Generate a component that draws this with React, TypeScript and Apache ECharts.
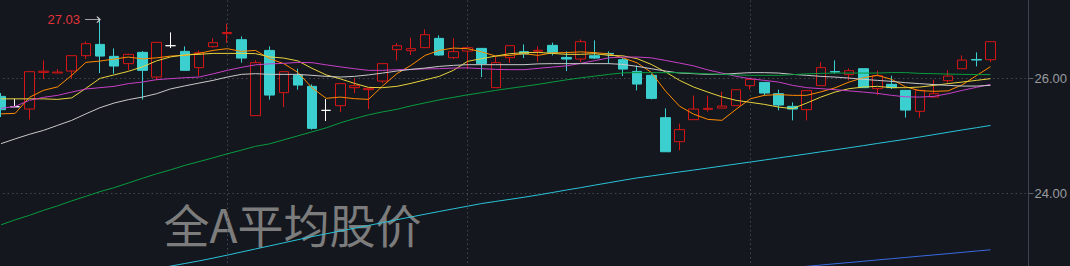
import React, { useEffect, useRef } from "react";
import * as echarts from "echarts";

// ---- data ----
const opens = [
  25.691, 25.51, 25.47, 26.11, 26.1, 26.133, 26.401, 26.598, 26.389, 26.262,
  26.459, 26.028, 26.575, 26.476, 26.192, 26.558, 26.785, 26.68, 25.355, 26.493,
  25.756, 26.058, 25.866, 25.447, 25.529, 25.843, 25.808, 25.958, 26.506, 26.488,
  26.541, 26.703, 26.366, 26.481, 26.528, 25.843, 26.366, 26.471, 26.48, 26.581,
  26.371, 26.342, 26.401, 26.44, 26.331, 26.127, 26.058, 25.32, 24.901, 25.285,
  25.465, 25.487, 25.529, 25.878, 25.935, 25.738, 25.517, 25.459, 25.878, 26.125,
  26.07, 26.174, 25.826, 25.901, 25.796, 25.43, 25.679, 25.965, 26.174, 26.335,
  26.331,
];
const closes = [
  25.459, 25.51, 26.122, 26.13, 26.115, 26.401, 26.61, 26.394, 26.22, 26.424,
  26.145, 26.633, 26.575, 26.145, 26.453, 26.628, 26.805, 26.359, 26.279, 25.714,
  26.122, 25.888, 25.133, 25.447, 25.913, 25.878, 25.831, 26.262, 26.575, 26.523,
  26.767, 26.412, 26.471, 26.541, 26.262, 26.279, 26.575, 26.429, 26.495, 26.459,
  26.342, 26.645, 26.359, 26.43, 26.167, 25.906, 25.656, 24.725, 25.111, 25.47,
  25.482, 25.522, 25.808, 25.988, 25.749, 25.54, 25.47, 25.791, 26.192, 26.115,
  26.139, 25.843, 26.052, 25.843, 25.452, 25.796, 25.738, 26.045, 26.324, 26.325,
  26.645,
];
const lows = [
  25.33, 25.51, 25.285, 25.993, 26.098, 26.0, 26.342, 26.098, 26.087, 26.145,
  25.634, 25.97, 26.534, 26.145, 26.045, 26.541, 26.621, 26.279, 25.355, 25.634,
  25.505, 25.808, 25.111, 25.261, 25.418, 25.749, 25.47, 25.923, 26.319, 26.412,
  26.541, 26.394, 26.342, 26.174, 26.028, 25.843, 26.272, 26.359, 26.296, 26.406,
  26.133, 26.289, 26.342, 26.262, 26.045, 25.796, 25.639, 24.725, 24.75, 25.285,
  25.425, 25.487, 25.529, 25.808, 25.704, 25.447, 25.273, 25.273, 25.878, 26.087,
  25.97, 25.843, 25.714, 25.819, 25.32, 25.32, 25.679, 25.93, 26.174, 26.214,
  26.289,
];
const highs = [
  25.749, 25.651, 26.122, 26.319, 26.167, 26.401, 26.65, 27.03, 26.528, 26.436,
  26.481, 26.64, 26.807, 26.563, 26.493, 26.703, 26.959, 26.738, 26.319, 26.563,
  26.122, 26.174, 25.901, 25.644, 25.913, 26.005, 25.831, 26.262, 26.621, 26.715,
  26.86, 26.755, 26.703, 26.541, 26.528, 26.377, 26.575, 26.598, 26.563, 26.628,
  26.476, 26.685, 26.668, 26.476, 26.377, 26.227, 26.087, 25.482, 25.215, 25.704,
  25.704, 25.773, 25.808, 25.988, 25.935, 25.808, 25.587, 25.791, 26.289, 26.319,
  26.18, 26.174, 26.139, 26.052, 25.796, 25.796, 25.983, 26.145, 26.406, 26.459,
  26.645,
];

const ma5 = [
  25.386, 25.395, 25.674, 25.796, 25.857, 26.058, 26.284, 26.307, 26.342, 26.377,
  26.345, 26.363, 26.394, 26.406, 26.441, 26.493, 26.523, 26.476, 26.493, 26.349,
  26.262, 26.11, 25.84, 25.657, 25.679, 25.651, 25.639, 25.874, 26.087, 26.232,
  26.406, 26.493, 26.534, 26.523, 26.467, 26.394, 26.406, 26.436, 26.406, 26.45,
  26.455, 26.467, 26.455, 26.432, 26.363, 26.276, 26.11, 25.787, 25.52, 25.381,
  25.29, 25.273, 25.465, 25.648, 25.709, 25.723, 25.709, 25.709, 25.77, 25.84,
  25.941, 26.017, 26.058, 25.988, 25.857, 25.791, 25.779, 25.787, 25.892, 26.052,
  26.209,
];
const ma10 = [
  25.648, 25.648, 25.648, 25.648, 25.639, 25.665, 25.831, 26.005, 26.066, 26.127,
  26.206, 26.31, 26.38, 26.415, 26.424, 26.441, 26.441, 26.441, 26.436, 26.38,
  26.359, 26.31, 26.18, 26.066, 25.997, 25.918, 25.848, 25.843, 25.866, 25.918,
  25.979, 26.04, 26.145, 26.302, 26.349, 26.394, 26.436, 26.453, 26.459, 26.441,
  26.424, 26.424, 26.436, 26.406, 26.398, 26.349, 26.249, 26.119, 25.97, 25.854,
  25.766, 25.683, 25.622, 25.587, 25.552, 25.505, 25.477, 25.575, 25.679, 25.766,
  25.826, 25.854, 25.866, 25.843, 25.843, 25.854, 25.883, 25.913, 25.941, 25.97,
  26.0,
];
const ma20 = [
  25.482, 25.517, 25.622, 25.674, 25.709, 25.766, 25.819, 25.843, 25.866, 25.913,
  25.941, 25.983, 26.0, 26.017, 26.028, 26.084, 26.145, 26.197, 26.241, 26.258,
  26.267, 26.284, 26.279, 26.241, 26.206, 26.174, 26.145, 26.145, 26.157, 26.162,
  26.171, 26.174, 26.185, 26.188, 26.174, 26.162, 26.157, 26.157, 26.18, 26.202,
  26.223, 26.267, 26.314, 26.363, 26.377, 26.377, 26.363, 26.319, 26.272, 26.223,
  26.153, 26.098, 26.04, 26.0, 25.97, 25.941, 25.883, 25.843, 25.826, 25.808,
  25.787, 25.766, 25.744, 25.709, 25.683, 25.679, 25.691, 25.738, 25.796, 25.848,
  25.901,
];
const ma30 = [
  24.867, 24.95, 25.029, 25.098, 25.186, 25.273, 25.386, 25.494, 25.575, 25.634,
  25.679, 25.738, 25.822, 25.874, 25.923, 25.97, 26.028, 26.075, 26.087, 26.075,
  26.075, 26.075, 26.058, 26.04, 26.028, 26.04, 26.066, 26.098, 26.133, 26.162,
  26.185, 26.214, 26.232, 26.244, 26.244, 26.244, 26.244, 26.244, 26.258, 26.262,
  26.262, 26.262, 26.262, 26.262, 26.249, 26.214, 26.174, 26.133, 26.098, 26.087,
  26.075, 26.075, 26.092, 26.105, 26.105, 26.098, 26.075, 26.058, 26.04, 26.028,
  26.01, 25.988, 25.97, 25.953, 25.93, 25.913, 25.897, 25.883, 25.871, 25.871,
  25.883,
];
const ma60 = [
  23.451, 23.538, 23.616, 23.704, 23.782, 23.869, 23.948, 24.03, 24.099, 24.18,
  24.262, 24.34, 24.41, 24.488, 24.553, 24.619, 24.689, 24.753, 24.82, 24.863,
  24.933, 25.003, 25.072, 25.142, 25.229, 25.303, 25.369, 25.421, 25.465, 25.526,
  25.578, 25.63, 25.674, 25.718, 25.756, 25.796, 25.831, 25.866, 25.901, 25.941,
  25.979, 26.014, 26.044, 26.075, 26.101, 26.105, 26.105, 26.105, 26.105, 26.096,
  26.084, 26.075, 26.066, 26.058, 26.058, 26.058, 26.07, 26.084, 26.092, 26.098,
  26.098, 26.098, 26.098, 26.106, 26.106, 26.092, 26.087, 26.08, 26.075, 26.072,
  26.07,
];
const ma120 = [
  null, null, null, null, null, null, null, null, null, 22.593,
  22.64, 22.685, 22.731, 22.776, 22.821, 22.87, 22.922, 22.976, 23.03, 23.083,
  23.137, 23.191, 23.245, 23.294, 23.343, 23.391, 23.44, 23.489, 23.54, 23.588,
  23.636, 23.683, 23.73, 23.775, 23.822, 23.859, 23.895, 23.932, 23.972, 24.014,
  24.058, 24.099, 24.143, 24.185, 24.228, 24.269, 24.303, 24.338, 24.373, 24.406,
  24.441, 24.476, 24.511, 24.546, 24.581, 24.617, 24.652, 24.687, 24.724, 24.759,
  24.795, 24.832, 24.87, 24.907, 24.943, 24.983, 25.024, 25.065, 25.106, 25.144,
  25.184,
];
const ma250 = [
  null, null, null, null, null, null, null, null, null, null,
  null, null, null, null, null, null, null, null, null, null,
  null, null, null, null, null, null, null, null, null, null,
  null, null, null, null, null, null, null, null, null, null,
  null, null, null, null, null, null, null, null, null, null,
  null, null, null, null, 22.66, 22.683, 22.705, 22.727, 22.749, 22.771,
  22.793, 22.815, 22.838, 22.86, 22.882, 22.904, 22.926, 22.948, 22.971, 22.993,
  23.015,
];

const monthStartIdx = [16, 33, 53];
const emptySlotsRight = 2;
const yMin = 22;
const yMax = 28;
const yStep = 2;
const watermark = "全A平均股价";

const maLines = [
  { name: "MA5", data: ma5, color: "#ff8a00" },
  { name: "MA10", data: ma10, color: "#e8d33c" },
  { name: "MA20", data: ma20, color: "#c63fc6" },
  { name: "MA30", data: ma30, color: "#c8c8c8" },
  { name: "MA60", data: ma60, color: "#089b3f" },
  { name: "MA120", data: ma120, color: "#29c3d8" },
  { name: "MA250", data: ma250, color: "#3a6be0" },
];

const BG = "#14171d";
const UP = "#d41616";
const DOWN = "#3ccfcf";
const GRID = "#454951";

// The chart canvas is larger than the window: the 22 and 28 ticks fall outside the view.
const PAD_LEFT = 5.6;
const PAD_TOP = 36.4;
const PAD_BOTTOM = 41.7;
const VIEW_W = 1070;
const VIEW_H = 266;

export default function App() {
  const ref = useRef<HTMLDivElement>(null);

  useEffect(() => {
    const chart = echarts.init(ref.current!, null, { renderer: "svg" });
    const slots = opens.length + emptySlotsRight;
    const cats = Array.from({ length: slots }, (_, i) => "d" + (i + 1));
    const kData = opens.map((o, i) => [o, closes[i], lows[i], highs[i]]);

    const option: any = {
      animation: false,
      backgroundColor: BG,
      grid: { left: 0, right: 42.65, top: 0, bottom: 0, containLabel: false },
      xAxis: {
        type: "category",
        data: cats,
        boundaryGap: true,
        show: false,
      },
      yAxis: {
        type: "value",
        position: "right",
        offset: 2.65,
        min: yMin,
        max: yMax,
        interval: yStep,
        axisLine: { show: true, lineStyle: { color: "#3e424a", width: 1 } },
        axisTick: { show: true, length: 5, lineStyle: { color: "#5a5e66" } },
        axisLabel: {
          color: "#9a9ca0",
          fontSize: 13,
          fontFamily: "Liberation Sans, Arial, sans-serif",
          margin: 6,
          showMinLabel: false,
          showMaxLabel: false,
          formatter: (v: number) => v.toFixed(2),
        },
        splitLine: { show: true, lineStyle: { color: GRID, type: [1.5, 3], width: 1 } },
      },
      graphic: [
        {
          type: "text",
          left: 164 + PAD_LEFT,
          top: 200 + PAD_TOP,
          z: 0,
          silent: true,
          style: {
            text: watermark,
            fontSize: 46,
            fontFamily: "Noto Sans CJK SC",
            fill: "#7c7c7c",
          },
        },
      ],
      series: [
        {
          type: "candlestick",
          data: kData,
          barWidth: 10,
          itemStyle: {
            color: BG,
            color0: DOWN,
            borderColor: UP,
            borderColor0: DOWN,
            borderColorDoji: "#ffffff",
            borderWidth: 1,
          },
          markLine: {
            silent: true,
            symbol: ["none", "none"],
            z: 1,
            label: { show: false },
            lineStyle: { color: GRID, type: [1.5, 3], width: 1 },
            data: monthStartIdx.map((i) => ({ xAxis: cats[i] })),
          },
          markPoint: {
            silent: true,
            symbol: "path://M0,3L15,3M12,0L15,3L12,6",
            symbolSize: [15, 6],
            symbolOffset: [-7.5, 0],
            symbolKeepAspect: false,
            itemStyle: { color: "none", borderColor: "#d0d0d0", borderWidth: 1 },
            label: {
              show: true,
              position: "left",
              distance: 1,
              color: "#e0343c",
              fontSize: 13,
              fontFamily: "Liberation Sans, Arial, sans-serif",
              formatter: (p: any) => Number(p.value).toFixed(2),
            },
            data: [{ type: "max", valueDim: "highest" }],
          },
        },
        ...maLines.map((m) => ({
          type: "line",
          name: m.name,
          data: m.data,
          symbol: "none",
          showSymbol: false,
          silent: true,
          lineStyle: { color: m.color, width: 1 },
          itemStyle: { color: m.color },
        })),
      ],
    };
    chart.setOption(option);
    return () => chart.dispose();
  }, []);

  return (
    <div
      style={{
        position: "fixed",
        left: 0,
        top: 0,
        width: VIEW_W,
        height: VIEW_H,
        overflow: "hidden",
        background: BG,
      }}
    >
      <div
        ref={ref}
        style={{
          position: "absolute",
          left: -PAD_LEFT,
          top: -PAD_TOP,
          width: VIEW_W + PAD_LEFT,
          height: VIEW_H + PAD_TOP + PAD_BOTTOM,
        }}
      />
    </div>
  );
}
